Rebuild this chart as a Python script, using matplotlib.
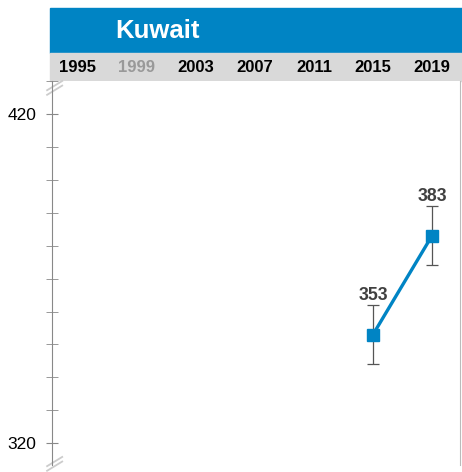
import matplotlib
matplotlib.use("Agg")
from matplotlib import pyplot as plt
from matplotlib.patches import Rectangle
from matplotlib.transforms import blended_transform_factory

plt.rcParams['font.family'] = ['Liberation Sans', 'DejaVu Sans']

country = "Kuwait"
years = [1995, 1999, 2003, 2007, 2011, 2015, 2019]
year_has_data = [True, False, True, True, True, True, True]
data_years = [2015, 2019]
scores = [353, 383]
errors = [9, 9]

blue = "#0084c4"
fig = plt.figure(figsize=(4.62, 4.72), dpi=100)

# header bands (drawn below the axes)
fig.patches.append(Rectangle((50 / 462, 1 - 53 / 472), 412 / 462, 45 / 472,
                             transform=fig.transFigure, color=blue, zorder=-2))
fig.patches.append(Rectangle((50 / 462, 1 - 81 / 472), 412 / 462, 28 / 472,
                             transform=fig.transFigure, color="#d9d9d9", zorder=-2))
fig.text(115 / 462, 1 - 31 / 472, country, color="white", fontsize=18.5,
         fontweight="bold", va="center", ha="left")

ax = fig.add_axes([52 / 462, 7 / 472, 408 / 462, 384 / 472])
ax.set_xlim(1993.24, 2020.9)
ax.set_ylim(313.4, 429.6)

ax.errorbar(data_years, scores, yerr=errors, fmt="none", ecolor="#555555",
            elinewidth=0.9, capsize=4, capthick=0.9, zorder=2)
ax.plot(data_years, scores, color=blue, lw=2.4, marker="s", ms=9, zorder=3)
for x, y, e in zip(data_years, scores, errors):
    ax.text(x, y + e + 0.2, str(y), ha="center", va="bottom", fontsize=12.8,
            fontweight="bold", color="#404040")

tr = blended_transform_factory(ax.transData, fig.transFigure)
for yr, ok in zip(years, year_has_data):
    ax.text(yr, 1 - 68 / 472, str(yr), transform=tr, ha="center", va="center",
            fontsize=12, fontweight="bold", color="black" if ok else "#999999")

for s in ["top", "bottom"]:
    ax.spines[s].set_visible(False)
ax.spines["left"].set_color("#888888")
ax.spines["right"].set_color("#bbbbbb")
ax.set_xticks([])
ax.set_yticks([320, 420])
ax.set_yticks(range(320, 431, 10), minor=True)
ax.tick_params(axis="y", which="both", direction="inout", length=8,
               color="#888888", labelsize=12.5, pad=7)

# axis break marks
for yb in [0.982, 0.003]:
    for dy in [-0.006, 0.006]:
        ax.plot([-0.012, 0.025], [yb + dy - 0.012, yb + dy + 0.012],
                transform=ax.transAxes, color="#cccccc", lw=1.3, clip_on=False)

fig.savefig("out.png", dpi=100)
